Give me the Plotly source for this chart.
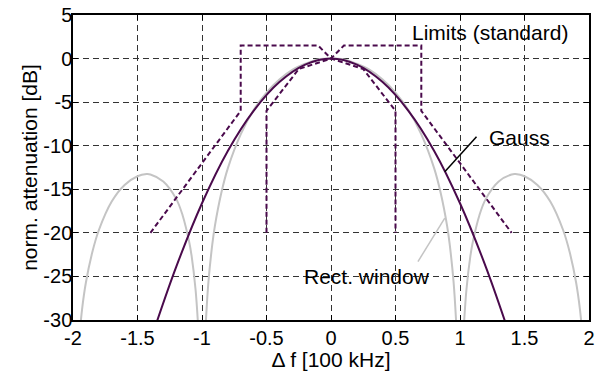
import plotly.graph_objects as go

# ---- data ----
gauss_x = [-1.35, -1.2, -1.0, -0.8, -0.6, -0.4, -0.2, 0.0, 0.2, 0.4, 0.6, 0.8, 1.0, 1.2, 1.35]
gauss_y = [-30.2, -23.9, -16.6, -10.6, -6.0, -2.7, -0.7, 0.0, -0.7, -2.7, -6.0, -10.6, -16.6, -23.9, -30.2]

rect_main_x = [-0.97, -0.95, -0.92, -0.9, -0.85, -0.8, -0.7, -0.6, -0.5, -0.4, -0.3, -0.2, -0.1, 0.0,
               0.1, 0.2, 0.3, 0.4, 0.5, 0.6, 0.7, 0.8, 0.85, 0.9, 0.92, 0.95, 0.97]
rect_main_y = [-30.2, -25.6, -21.3, -19.2, -15.4, -12.6, -8.7, -5.9, -3.9, -2.4, -1.3, -0.6, -0.1, 0.0,
               -0.1, -0.6, -1.3, -2.4, -3.9, -5.9, -8.7, -12.6, -15.4, -19.2, -21.3, -25.6, -30.2]
rect_side_x = [1.03, 1.05, 1.08, 1.1, 1.15, 1.2, 1.3, 1.4, 1.43, 1.5, 1.6, 1.7, 1.8, 1.85, 1.9, 1.93, 1.95]
rect_side_y = [-30.7, -26.5, -22.7, -21.0, -18.0, -16.1, -14.1, -13.3, -13.26, -13.5, -14.5, -16.4, -19.7, -22.2, -25.7, -28.8, -31.9]

limit_outer_x = [-1.4, -0.7, -0.7, -0.1, 0.0, 0.1, 0.7, 0.7, 1.4]
limit_outer_y = [-20, -6, 1.5, 1.5, 0, 1.5, 1.5, -6, -20]
limit_inner_x = [-0.5, -0.5, -0.25, 0.0, 0.25, 0.5, 0.5]
limit_inner_y = [-20, -6, -1.2, 0, -1.2, -6, -20]

x_ticks = [-2, -1.5, -1, -0.5, 0, 0.5, 1, 1.5, 2]
x_tick_text = ["-2", "-1.5", "-1", "-0.5", "0", "0.5", "1", "1.5", "2"]
y_ticks = [5, 0, -5, -10, -15, -20, -25, -30]
y_tick_text = ["5", "0", "-5", "-10", "-15", "-20", "-25", "-30"]

PURPLE = "#4a0a4c"
GRAY = "#c4c4c4"
FONT = "Liberation Sans, Arial, sans-serif"

fig = go.Figure()

# rectangular window (sinc): main lobe + mirrored side lobes
fig.add_trace(go.Scatter(x=[-v for v in rect_side_x[::-1]], y=rect_side_y[::-1], mode="lines",
                         line=dict(color=GRAY, width=2, shape="spline"), showlegend=False))
fig.add_trace(go.Scatter(x=rect_side_x, y=rect_side_y, mode="lines",
                         line=dict(color=GRAY, width=2, shape="spline"), showlegend=False))
fig.add_trace(go.Scatter(x=rect_main_x, y=rect_main_y, mode="lines",
                         line=dict(color=GRAY, width=2, shape="spline"), showlegend=False))

# Gauss
fig.add_trace(go.Scatter(x=gauss_x, y=gauss_y, mode="lines",
                         line=dict(color=PURPLE, width=2, shape="spline"), showlegend=False))

# limits
for lx, ly in [(limit_outer_x, limit_outer_y), (limit_inner_x, limit_inner_y)]:
    fig.add_trace(go.Scatter(x=lx, y=ly, mode="lines",
                             line=dict(color=PURPLE, width=2, dash="5px,3px"), showlegend=False))

# pointer lines
fig.add_shape(type="line", x0=1.128, y0=-8.97, x1=0.882, y1=-12.98,
              line=dict(color="black", width=1.5))
fig.add_shape(type="line", x0=0.674, y0=-23.3, x1=0.882, y1=-18.3,
              line=dict(color=GRAY, width=1.5))

ann_font = dict(family=FONT, size=21, color="black")
fig.add_annotation(x=1.232, y=2.94, text="Limits (standard)", showarrow=False, font=ann_font)
fig.add_annotation(x=1.465, y=-9.0, text="Gauss", showarrow=False, font=ann_font)
fig.add_annotation(x=0.276, y=-25.0, text="Rect. window", showarrow=False, font=ann_font)

axis_common = dict(showline=True, linecolor="black", linewidth=1.5, mirror="ticks",
                   ticks="inside", ticklen=5, tickcolor="black", automargin=False,
                   showgrid=True, gridcolor="#333333", gridwidth=1, griddash="6px,4px",
                   zeroline=False, tickfont=dict(family=FONT, size=20, color="black"))

fig.update_xaxes(range=[-2, 2], tickvals=x_ticks, ticktext=x_tick_text, ticklabelstandoff=-1,
                 title=dict(text="\u0394 f [100 kHz]", font=dict(family=FONT, size=21, color="black"),
                            standoff=5),
                 **axis_common)
fig.update_yaxes(range=[-30, 5], tickvals=y_ticks, ticktext=y_tick_text, ticklabelstandoff=-5,
                 title=dict(text="norm. attenuation [dB]", font=dict(family=FONT, size=21, color="black"),
                            standoff=0),
                 **axis_common)

fig.update_layout(width=600, height=371, margin=dict(l=73, r=11, t=15, b=51),
                  plot_bgcolor="white", paper_bgcolor="white")

fig.write_html("out.html")
